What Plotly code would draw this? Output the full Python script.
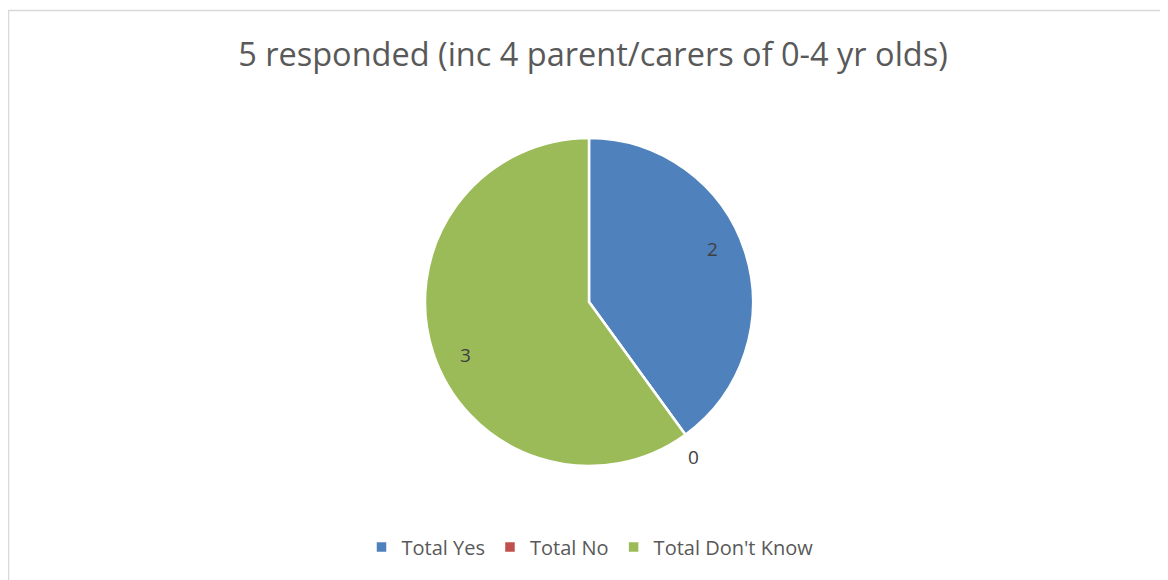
import math
import plotly.graph_objects as go

# chart data
labels = ["Total Yes", "Total No", "Total Don't Know"]
values = [2, 0, 3]
colors = ["#4F81BD", "#C0504D", "#9BBB59"]
title_text = "5 responded (inc 4 parent/carers of 0-4 yr olds)"

W, H = 1168, 580
off = 8  # page body margin
text_color = "#595959"
font_family = "Open Sans"

# pie geometry in pixels (figure coords)
cx, cy, rad = 589 - off, 302 - off, 164

fig = go.Figure()

fig.add_trace(go.Pie(
    labels=labels,
    values=values,
    sort=False,
    direction="clockwise",
    rotation=0,
    marker=dict(colors=colors, line=dict(color="white", width=2.5)),
    textinfo="none",
    hoverinfo="label+value",
    domain=dict(x=[(cx - rad) / W, (cx + rad) / W],
                y=[1 - (cy + rad) / H, 1 - (cy - rad) / H]),
    showlegend=True,
))

# data labels: inside for non-zero slices, just outside for empty ones
total = sum(values)
cum = 0
for v in values:
    mid = (cum + v / 2) / total * 2 * math.pi - math.radians(5)
    r = rad * (0.82 if v > 0 else 1.14)
    if v == 0:
        mid += math.radians(7)
    px = cx + r * math.sin(mid)
    py = cy - r * math.cos(mid)
    fig.add_annotation(
        text=str(v), x=px / W, y=1 - py / H,
        xref="paper", yref="paper", showarrow=False,
        xanchor="center", yanchor="middle",
        font=dict(size=19, color="#404040", family=font_family),
    )
    cum += v

# outer chart border
fig.add_shape(type="rect", xref="paper", yref="paper",
              x0=0.5 / W, x1=1.02, y0=-0.02, y1=1 - 2.5 / H,
              line=dict(color="#D9D9D9", width=1.5), fillcolor="rgba(0,0,0,0)")

fig.update_layout(
    width=W, height=H,
    margin=dict(l=0, r=0, t=0, b=0),
    paper_bgcolor="white",
    plot_bgcolor="white",
    title=dict(text=title_text, x=(593 - off) / W, xanchor="center",
               y=1 - (55 - off) / H, yanchor="middle",
               font=dict(size=32.5, color=text_color, family=font_family)),
    legend=dict(orientation="h", x=(590 - off) / W, xanchor="center",
                y=1 - (547 - off) / H, yanchor="middle",
                font=dict(size=20, color=text_color, family=font_family),
                itemwidth=30, traceorder="normal"),
)

fig.write_html("out.html")
